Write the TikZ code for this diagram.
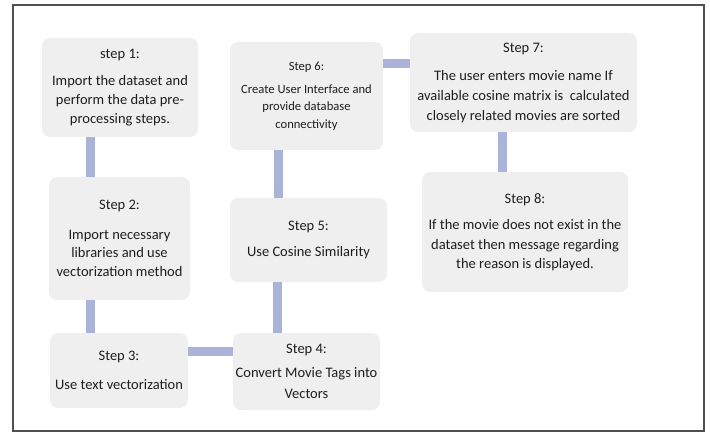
\documentclass[tikz,border=0pt]{standalone}
\usepackage{fontspec}
\setmainfont{Carlito}
\definecolor{boxgray}{HTML}{EFEFEF}
\definecolor{linkblue}{HTML}{A9B4D8}
\definecolor{framegray}{HTML}{505050}
\definecolor{inkgray}{HTML}{1E1E1E}
\tikzset{
  stepbox/.style={fill=boxgray, rounded corners=8pt, align=center, inner sep=0pt,
    text=inkgray, font=\fontsize{14.5}{19}\selectfont},
  conn/.style={draw=linkblue, line width=9pt}
}
\begin{document}
\begin{tikzpicture}[x=1pt,y=-1pt]
\useasboundingbox (0,0) rectangle (710,433);
% outer frame
\draw[framegray, line width=1.1pt] (13,5) rectangle (704,431);

% step boxes
\node[stepbox, minimum width=156pt, minimum height=99pt] (s1) at (120,87.5)
  {step 1:\\[8pt]Import the dataset and\\perform the data pre-\\processing steps.};
\node[stepbox, minimum width=141pt, minimum height=123pt, font=\fontsize{14.5}{18.5}\selectfont] (s2) at (119.5,238.5)
  {Step 2:\\[11pt]Import necessary\\libraries and use\\vectorization method};
\node[stepbox, minimum width=138pt, minimum height=75pt] (s3) at (119,370.5)
  {Step 3:\\[9.5pt]Use text vectorization};
\node[stepbox, minimum width=147pt, minimum height=77pt, font=\fontsize{14.5}{21}\selectfont] (s4) at (306.5,371.5)
  {Step 4:\\[3pt]Convert Movie Tags into\\Vectors};
\node[stepbox, minimum width=157pt, minimum height=84pt] (s5) at (308.5,240)
  {Step 5:\\[7pt]Use Cosine Similarity};
\node[stepbox, minimum width=153pt, minimum height=108pt, font=\fontsize{12.6}{17.5}\selectfont] (s6) at (306.5,96)
  {Step 6:\\[5.5pt]Create User Interface and\\provide database\\connectivity};
\node[stepbox, minimum width=227pt, minimum height=99pt, font=\fontsize{14.5}{20}\selectfont] (s7) at (523.5,82.5)
  {Step 7:\\[8pt]The user enters movie name If\\available cosine matrix is~ calculated\\closely related movies are sorted};
\node[stepbox, minimum width=206pt, minimum height=120pt, font=\fontsize{14.5}{19.5}\selectfont] (s8) at (525,232)
  {Step 8:\\[7pt]If the movie does not exist in the\\dataset then message regarding\\the reason is displayed.};

% connectors between consecutive steps
\draw[conn] ([xshift=-30pt]s1.south) -- ([xshift=-30pt]s1.south |- s2.north);
\draw[conn] ([xshift=-29.5pt]s2.south) -- ([xshift=-29.5pt]s2.south |- s3.north);
\draw[conn] ([yshift=19.5pt]s3.east) -- ([yshift=19.5pt]s3.east -| s4.west);
\draw[conn] ([xshift=-29.5pt]s4.north) -- ([xshift=-29.5pt]s4.north |- s5.south);
\draw[conn] ([xshift=-30.5pt]s5.north) -- ([xshift=-30.5pt]s5.north |- s6.south);
\draw[conn] ([yshift=32pt]s6.east) -- ([yshift=32pt]s6.east -| s7.west);
\draw[conn] ([xshift=-21.5pt]s7.south) -- ([xshift=-21.5pt]s7.south |- s8.north);
\end{tikzpicture}
\end{document}
